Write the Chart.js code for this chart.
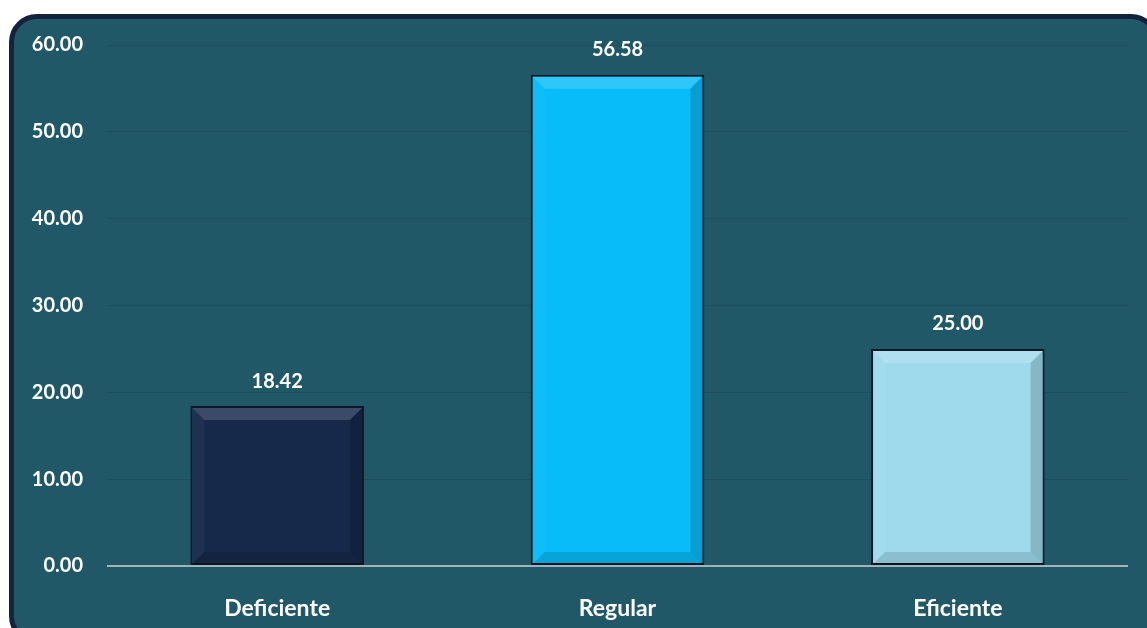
<!DOCTYPE html>
<html>
<head>
<meta charset="utf-8">
<script src="https://cdn.jsdelivr.net/npm/chart.js@4"></script>
<style>
  html, body { margin: 0; padding: 0; background: #ffffff; overflow: hidden; }
  #frame {
    position: absolute; left: 9px; top: 14px; width: 1150px; height: 630px;
    box-sizing: border-box; border: 5px solid #14233d; border-radius: 28px;
    background: #215868;
  }
  #wrap { position: absolute; left: 0; top: 0; width: 1147px; height: 628px; }
</style>
</head>
<body>
<div id="frame"></div>
<div id="wrap"><canvas id="myChart"></canvas></div>
<script>
const categories = ["Deficiente", "Regular", "Eficiente"];
const values = [18.42, 56.58, 25.00];
const barColors = ["#16294a", "#08bbf9", "#9fdaec"];
const yTicks = [0, 10, 20, 30, 40, 50, 60];

const fontFamily = "Lato, 'Open Sans', sans-serif";

// bevel look on the bars plus the number above each one
const bevelPlugin = {
  id: "bevel",
  afterDatasetsDraw(chart) {
    const ctx = chart.ctx;
    const meta = chart.getDatasetMeta(0);
    meta.data.forEach((bar, i) => {
      const p = bar.getProps(["x", "y", "base", "width"], true);
      const l = p.x - p.width / 2 + 2, r = p.x + p.width / 2 - 2;
      const t = p.y + 2, b = p.base - 1;
      const s = 12;
      ctx.save();
      // top
      ctx.fillStyle = "rgba(255,255,255,0.16)";
      ctx.beginPath();
      ctx.moveTo(l, t); ctx.lineTo(r, t); ctx.lineTo(r - s, t + s); ctx.lineTo(l + s, t + s);
      ctx.closePath(); ctx.fill();
      // left
      ctx.fillStyle = "rgba(255,255,255,0.04)";
      ctx.beginPath();
      ctx.moveTo(l, t); ctx.lineTo(l + s, t + s); ctx.lineTo(l + s, b - s); ctx.lineTo(l, b);
      ctx.closePath(); ctx.fill();
      // right
      ctx.fillStyle = "rgba(0,0,0,0.16)";
      ctx.beginPath();
      ctx.moveTo(r, t); ctx.lineTo(r, b); ctx.lineTo(r - s, b - s); ctx.lineTo(r - s, t + s);
      ctx.closePath(); ctx.fill();
      // bottom
      ctx.fillStyle = "rgba(0,0,0,0.12)";
      ctx.beginPath();
      ctx.moveTo(l, b); ctx.lineTo(r, b); ctx.lineTo(r - s, b - s); ctx.lineTo(l + s, b - s);
      ctx.closePath(); ctx.fill();
      // value label
      ctx.fillStyle = "#ffffff";
      ctx.font = "bold 20px " + fontFamily;
      ctx.textAlign = "center";
      ctx.textBaseline = "middle";
      ctx.fillText(values[i].toFixed(2), p.x, p.y - 25);
      ctx.restore();
    });
  }
};

const data = {
  labels: categories,
  datasets: [
    {
      data: values,
      backgroundColor: barColors,
      borderColor: "#0c1828",
      borderWidth: 2,
      borderSkipped: false,
      barPercentage: 0.51,
      categoryPercentage: 1.0,
    },
  ],
};

const config = {
  type: "bar",
  data: data,
  options: {
    responsive: false,
    animation: false,
    layout: { padding: { top: 45, right: 19, bottom: 0, left: 0 } },
    plugins: { legend: { display: false }, tooltip: { enabled: false } },
    scales: {
      x: {
        grid: { display: false },
        border: { display: false },
        ticks: {
          color: "#ffffff",
          padding: 21,
          font: { family: fontFamily, size: 23, weight: "bold" },
        },
        afterFit: (scale) => { scale.height = 62; },
      },
      y: {
        min: 0,
        max: 60,
        afterBuildTicks: (scale) => { scale.ticks = yTicks.map((v) => ({ value: v })); },
        border: { display: false },
        grid: {
          drawTicks: false,
          color: (c) => (c.tick && c.tick.value === 0 ? "#a7b2b8" : "rgba(10,35,45,0.16)"),
          lineWidth: (c) => (c.tick && c.tick.value === 0 ? 2 : 1),
        },
        ticks: {
          color: "#ffffff",
          padding: 24,
          font: { family: fontFamily, size: 20, weight: "bold" },
          callback: (value) => Number(value).toFixed(2),
        },
        afterFit: (scale) => { scale.width = 107; },
      },
    },
  },
  plugins: [bevelPlugin],
};

const canvas = document.getElementById("myChart");
canvas.width = 1147;
canvas.height = 628;
const myChart = new Chart(canvas, config);
</script>
</body>
</html>
